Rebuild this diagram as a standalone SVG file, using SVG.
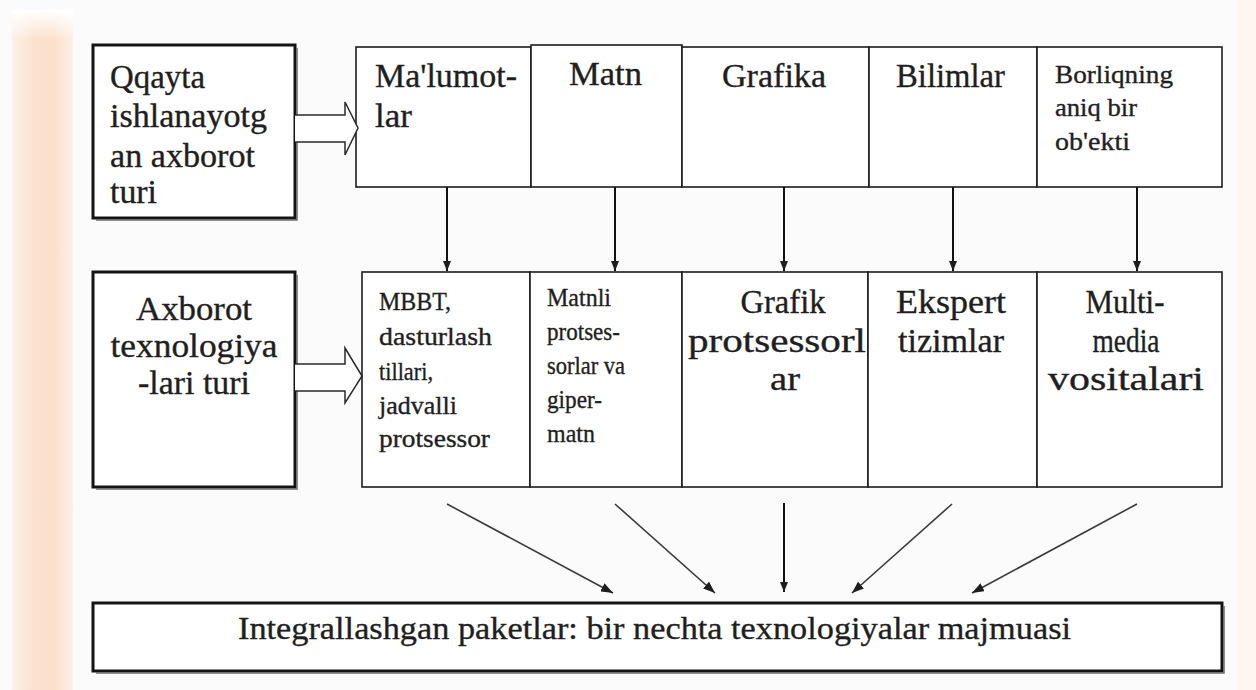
<svg xmlns="http://www.w3.org/2000/svg" width="1256" height="690" viewBox="0 0 1256 690">
  <defs>
    <linearGradient id="stripe" x1="0" y1="0" x2="1" y2="0">
      <stop offset="0" stop-color="#fdf1e8"/>
      <stop offset="0.35" stop-color="#fbe2cf"/>
      <stop offset="0.7" stop-color="#fbe1cc"/>
      <stop offset="1" stop-color="#fdf0e6"/>
    </linearGradient>
    <linearGradient id="stripeTop" x1="0" y1="0" x2="0" y2="1">
      <stop offset="0" stop-color="#ffffff" stop-opacity="1"/>
      <stop offset="1" stop-color="#ffffff" stop-opacity="0"/>
    </linearGradient>
    <marker id="headBig" viewBox="0 0 12 9" refX="12" refY="4.5" markerWidth="12" markerHeight="9" markerUnits="userSpaceOnUse" orient="auto">
      <path d="M0,0 L12,4.5 L0,9 z" fill="#1e1e1e"/>
    </marker>
    <marker id="headSmall" viewBox="0 0 10 8" refX="10" refY="4" markerWidth="10" markerHeight="8" markerUnits="userSpaceOnUse" orient="auto">
      <path d="M0,0 L10,4 L0,8 z" fill="#1e1e1e"/>
    </marker>
  </defs>
  <style>
    text { font-family: 'Liberation Serif', 'Times New Roman', serif; fill: #1f1f1f; stroke: #1f1f1f; stroke-width: 0.35; }
    .lg { font-size: 33px; }
    .sm { font-size: 25px; }
    .cell { fill: #ffffff; stroke: #1c1c1c; stroke-width: 1.6; }
    .frame { fill: #ffffff; stroke: #141414; stroke-width: 3; }
    .shade { fill: none; stroke: #6a6a6a; stroke-width: 1.5; }
    .block { fill: #ffffff; stroke: #2a2a2a; stroke-width: 1.5; stroke-linejoin: miter; }
    .vline { stroke: #111; stroke-width: 2; fill: none; }
    .dline { stroke: #3a3a3a; stroke-width: 1.6; fill: none; }
  </style>

  <!-- page background and side band -->
  <rect x="0" y="0" width="1256" height="690" fill="#fbfbfb"/>
  <rect x="12" y="12" width="61" height="678" fill="url(#stripe)"/>
  <rect x="12" y="10" width="61" height="30" fill="url(#stripeTop)"/>
  <rect x="1238" y="0" width="18" height="690" fill="#fdf6f1"/>

  <!-- left label: source information type -->
  <g id="node-source-type">
    <rect class="frame" x="93" y="45" width="202" height="173"/>
    <path class="shade" d="M96,220 L297,220 L297,48"/>
    <text class="lg" x="110" y="88" textLength="95" lengthAdjust="spacingAndGlyphs">Qqayta</text>
    <text class="lg" x="110" y="127" textLength="157" lengthAdjust="spacingAndGlyphs">ishlanayotg</text>
    <text class="lg" x="110" y="167" textLength="145" lengthAdjust="spacingAndGlyphs">an axborot</text>
    <text class="lg" x="110" y="203" textLength="47" lengthAdjust="spacingAndGlyphs">turi</text>
  </g>

  <!-- top row: information kinds -->
  <g id="node-data">
    <rect class="cell" x="356" y="47" width="175" height="140"/>
    <text class="lg" x="375" y="87" textLength="142" lengthAdjust="spacingAndGlyphs">Ma'lumot-</text>
    <text class="lg" x="375" y="127" textLength="37" lengthAdjust="spacingAndGlyphs">lar</text>
  </g>
  <g id="node-text">
    <rect class="cell" x="531" y="45" width="151" height="142"/>
    <text class="lg" x="569" y="85" textLength="73" lengthAdjust="spacingAndGlyphs">Matn</text>
  </g>
  <g id="node-graphics">
    <rect class="cell" x="682" y="47" width="187" height="140"/>
    <text class="lg" x="722" y="87" textLength="104" lengthAdjust="spacingAndGlyphs">Grafika</text>
  </g>
  <g id="node-knowledge">
    <rect class="cell" x="869" y="47" width="168" height="140"/>
    <text class="lg" x="896" y="87" textLength="109" lengthAdjust="spacingAndGlyphs">Bilimlar</text>
  </g>
  <g id="node-object">
    <rect class="cell" x="1037" y="47" width="185" height="140"/>
    <text class="sm" x="1055" y="83" textLength="118" lengthAdjust="spacingAndGlyphs">Borliqning</text>
    <text class="sm" x="1055" y="116" textLength="82" lengthAdjust="spacingAndGlyphs">aniq bir</text>
    <text class="sm" x="1055" y="150" textLength="75" lengthAdjust="spacingAndGlyphs">ob'ekti</text>
  </g>

  <!-- left label: technology type -->
  <g id="node-tech-type">
    <rect class="frame" x="93" y="272" width="202" height="215"/>
    <path class="shade" d="M96,489 L297,489 L297,275"/>
    <text class="lg" x="194" y="320" text-anchor="middle" textLength="116" lengthAdjust="spacingAndGlyphs">Axborot</text>
    <text class="lg" x="194" y="357" text-anchor="middle" textLength="167" lengthAdjust="spacingAndGlyphs">texnologiya</text>
    <text class="lg" x="194" y="394" text-anchor="middle" textLength="112" lengthAdjust="spacingAndGlyphs">-lari turi</text>
  </g>

  <!-- middle row: technologies -->
  <g id="node-dbms">
    <rect class="cell" x="362" y="272" width="168" height="215"/>
    <text class="sm" x="379" y="310" textLength="72" lengthAdjust="spacingAndGlyphs">MBBT,</text>
    <text class="sm" x="379" y="345" textLength="113" lengthAdjust="spacingAndGlyphs">dasturlash</text>
    <text class="sm" x="379" y="380" textLength="54" lengthAdjust="spacingAndGlyphs">tillari,</text>
    <text class="sm" x="379" y="414" textLength="78" lengthAdjust="spacingAndGlyphs">jadvalli</text>
    <text class="sm" x="379" y="447" textLength="111" lengthAdjust="spacingAndGlyphs">protsessor</text>
  </g>
  <g id="node-wordproc">
    <rect class="cell" x="530" y="272" width="152" height="215"/>
    <text class="sm" x="547" y="306" textLength="64" lengthAdjust="spacingAndGlyphs">Matnli</text>
    <text class="sm" x="547" y="340" textLength="73" lengthAdjust="spacingAndGlyphs">protses-</text>
    <text class="sm" x="547" y="374" textLength="78" lengthAdjust="spacingAndGlyphs">sorlar va</text>
    <text class="sm" x="547" y="408" textLength="55" lengthAdjust="spacingAndGlyphs">giper-</text>
    <text class="sm" x="547" y="442" textLength="48" lengthAdjust="spacingAndGlyphs">matn</text>
  </g>
  <g id="node-graphproc">
    <rect class="cell" x="682" y="272" width="186" height="215"/>
    <text class="lg" x="783" y="313" text-anchor="middle" textLength="85" lengthAdjust="spacingAndGlyphs">Grafik</text>
    <text class="lg" x="777" y="352" text-anchor="middle" textLength="178" lengthAdjust="spacingAndGlyphs">protsessorl</text>
    <text class="lg" x="785" y="390" text-anchor="middle" textLength="30" lengthAdjust="spacingAndGlyphs">ar</text>
  </g>
  <g id="node-expert">
    <rect class="cell" x="868" y="272" width="169" height="215"/>
    <text class="lg" x="951" y="313" text-anchor="middle" textLength="110" lengthAdjust="spacingAndGlyphs">Ekspert</text>
    <text class="lg" x="951" y="352" text-anchor="middle" textLength="106" lengthAdjust="spacingAndGlyphs">tizimlar</text>
  </g>
  <g id="node-multimedia">
    <rect class="cell" x="1037" y="272" width="185" height="215"/>
    <text class="lg" x="1125" y="313" text-anchor="middle" textLength="79" lengthAdjust="spacingAndGlyphs">Multi-</text>
    <text class="lg" x="1126" y="352" text-anchor="middle" textLength="67" lengthAdjust="spacingAndGlyphs">media</text>
    <text class="lg" x="1126" y="390" text-anchor="middle" textLength="156" lengthAdjust="spacingAndGlyphs">vositalari</text>
  </g>

  <!-- bottom: integrated packages -->
  <g id="node-integrated">
    <rect class="frame" x="93" y="603" width="1129" height="68"/>
    <path class="shade" d="M96,673 L1224,673 L1224,606"/>
    <text x="238" y="639" font-size="32" textLength="833" lengthAdjust="spacingAndGlyphs">Integrallashgan paketlar: bir nechta texnologiyalar majmuasi</text>
  </g>

  <!-- connectors -->
  <g id="connectors">
    <!-- hollow block arrows from the row labels -->
    <path class="block" d="M295,115 L345,115 L345,102 L358,128 L345,155 L345,142 L295,142"/>
    <path class="block" d="M295,364 L345,364 L345,348 L362,376 L345,403 L345,391 L295,391"/>

    <!-- information kind to technology -->
    <line class="vline" x1="447" y1="187" x2="447" y2="271" marker-end="url(#headSmall)"/>
    <line class="vline" x1="615" y1="187" x2="615" y2="271" marker-end="url(#headSmall)"/>
    <line class="vline" x1="784" y1="187" x2="784" y2="271" marker-end="url(#headSmall)"/>
    <line class="vline" x1="953" y1="187" x2="953" y2="271" marker-end="url(#headSmall)"/>
    <line class="vline" x1="1137" y1="187" x2="1137" y2="271" marker-end="url(#headSmall)"/>

    <!-- technologies to integrated packages -->
    <line class="dline" x1="447" y1="504" x2="613" y2="593" marker-end="url(#headBig)"/>
    <line class="dline" x1="615" y1="504" x2="715" y2="593" marker-end="url(#headBig)"/>
    <line class="vline" x1="784" y1="503" x2="784" y2="592" marker-end="url(#headSmall)"/>
    <line class="dline" x1="952" y1="504" x2="852" y2="593" marker-end="url(#headBig)"/>
    <line class="dline" x1="1137" y1="504" x2="972" y2="593" marker-end="url(#headBig)"/>
  </g>
</svg>
